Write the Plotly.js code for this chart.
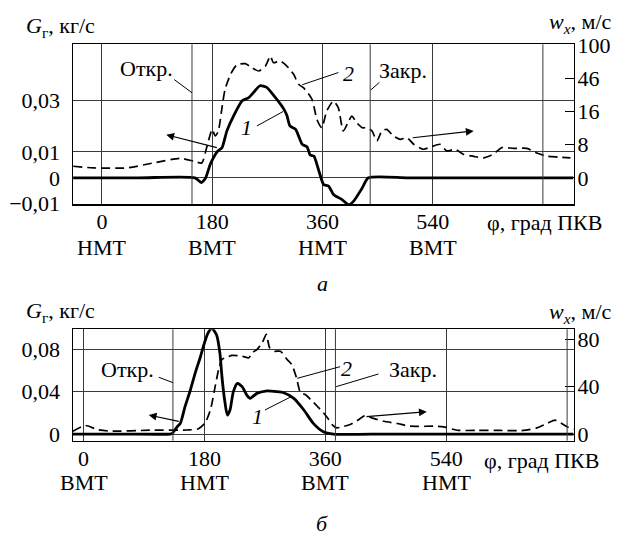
<!DOCTYPE html>
<html>
<head>
<meta charset="utf-8">
<script src="https://cdn.plot.ly/plotly-3.0.1.min.js"></script>
<style>html,body{margin:0;padding:0;background:#fff}#chart{width:617px;height:535px}</style>
</head>
<body>
<div id="chart"></div>
<script>
// ---------- Panel a (top) ----------
// curve 1: gas mass flow G, kg/s (left axis)
const phiA1 = [-47, 60, 152, 162, 169, 177, 189, 196, 204, 215, 229, 239, 250, 258, 269, 283, 297, 302, 307, 316, 321, 327, 335, 340, 346, 351, 356, 362, 370, 378, 392, 403, 411, 425, 435, 500, 600, 700, 770];
const gA1   = [0, 0, 0, -0.0018, -0.0002, 0.0053, 0.0103, 0.0116, 0.0181, 0.0239, 0.0297, 0.0308, 0.0336, 0.0355, 0.0349, 0.0310, 0.0265, 0.0240, 0.0200, 0.0188, 0.0162, 0.0129, 0.0119, 0.0088, 0.0084, 0.0052, 0.0013, -0.0026, -0.0032, -0.0064, -0.0084, -0.0104, -0.0090, -0.0039, 0, 0, 0, 0, 0];
// curve 2: gas velocity w_x, m/s (right axis)
const phiA2 = [-47, -14, 41, 84, 128, 150, 163, 171, 180, 185, 190, 196, 201, 210, 220, 234, 245, 256, 267, 275, 280, 291, 302, 313, 321, 329, 343, 351, 359, 367, 378, 386, 394, 403, 408, 416, 425, 433, 441, 449, 457, 465, 476, 487, 498, 509, 525, 536, 552, 563, 577, 590, 607, 623, 639, 653, 672, 694, 710, 727, 746, 765];
const wA2   = [2.8, 2.4, 2.4, 3.6, 4.7, 4.0, 3.6, 7.3, 11.7, 10.1, 11.3, 19.4, 36.1, 52.7, 67.9, 70.0, 63.5, 58.1, 66.2, 82.5, 71.6, 74.4, 66.2, 52.7, 40.7, 37.6, 27.1, 14.1, 12.1, 16.5, 25.5, 19.4, 11.3, 13.7, 14.9, 13.3, 12.1, 12.1, 11.3, 8.9, 11.3, 11.7, 10.1, 9.3, 9.7, 8.1, 6.9, 7.4, 8.1, 6.5, 6.9, 5.7, 5.2, 4.8, 5.7, 7.3, 7.1, 7.1, 6.0, 5.2, 5.0, 4.8];
const tickPhiA  = [0, 180, 360, 540];
const tickNumA  = ['0', '180', '360', '540'];
const tickWordA = ['НМТ', 'ВМТ', 'НМТ', 'ВМТ'];
const gTicksA   = [-0.01, 0, 0.01, 0.03];
const gLabelsA  = ['−0,01', '0', '0,01', '0,03'];
const wTicksA   = [0, 8, 16, 46, 100];     // non-uniform right scale (equally spaced ticks)
const extraLinesA = [147, 438, 720];       // Откр., Закр., 720°

// ---------- Panel б (bottom) ----------
const phiB1 = [-16, 60, 129, 132, 139, 144, 151, 159, 166, 174, 179, 185, 191, 198, 203, 206, 210, 214, 218, 223, 229, 236, 243, 248, 258, 271, 288, 298, 313, 328, 342, 357, 372, 450, 550, 650, 730];
const gB1   = [0, 0, 0, 0.0007, 0.0066, 0.0101, 0.0258, 0.0416, 0.0573, 0.0730, 0.0841, 0.0951, 0.0998, 0.0935, 0.0762, 0.0541, 0.0321, 0.0179, 0.0227, 0.0400, 0.0479, 0.0447, 0.0368, 0.0337, 0.0384, 0.0406, 0.0400, 0.0390, 0.0337, 0.0227, 0.0101, 0.0022, 0, 0, 0, 0, 0];
const phiB2 = [-16, 3, 20, 40, 99, 154, 171, 181, 189, 196, 201, 206, 211, 221, 236, 246, 251, 258, 266, 272, 277, 284, 293, 303, 310, 317, 323, 330, 338, 348, 357, 365, 370, 377, 385, 397, 410, 419, 429, 447, 467, 486, 521, 536, 556, 586, 620, 655, 675, 690, 702, 710, 720, 730];
const wB2   = [2.4, 7.2, 3.8, 2.4, 3.2, 3.4, 4.4, 9.5, 20.7, 40.5, 54.6, 63.1, 64.5, 66.5, 65.9, 64.5, 68.8, 71.5, 77.2, 84.3, 73.0, 70.1, 70.1, 63.1, 58.8, 47.6, 34.9, 33.4, 29.2, 23.5, 18.0, 12.3, 8.0, 5.2, 6.1, 8.0, 12.3, 15.7, 13.7, 10.8, 8.9, 6.6, 6.6, 6.1, 3.2, 3.0, 3.0, 3.0, 5.2, 8.9, 11.7, 9.5, 6.1, 3.8];
const tickPhiB  = [0, 180, 360, 540];
const tickNumB  = ['0', '180', '360', '540'];
const tickWordB = ['ВМТ', 'НМТ', 'ВМТ', 'НМТ'];
const gTicksB   = [0, 0.04, 0.08];
const gLabelsB  = ['0', '0,04', '0,08'];
const wTicksB   = [0, 40, 80];
const extraLinesB = [133, 375, 720];

// right scale of panel a: each tick interval takes the same height
function wScaleA(w) {
  for (let i = 0; i < wTicksA.length - 1; i++) {
    const a = wTicksA[i], b = wTicksA[i + 1];
    if (w <= b || i === wTicksA.length - 2) return i + (w - a) / (b - a);
  }
}

const W = 617, H = 535;
const FONT = "'Liberation Serif', serif";
const FS = 22;
const GRID = '#3a3a3a';
const px = v => v / W, py = v => 1 - v / H;
const xDom = [px(73), px(573.5)];
const tf = () => ({family: FONT, size: FS, color: '#000'});

const solid = () => ({color: '#000', width: 2.8, shape: 'spline', smoothing: 0.6});
const dashed = () => ({color: '#000', width: 1.7, dash: '9px,5px', shape: 'spline', smoothing: 0.6});

const traces = [
  {x: phiA1, y: gA1, xaxis: 'x', yaxis: 'y', mode: 'lines', line: solid(), hoverinfo: 'skip'},
  {x: phiA2, y: wA2.map(wScaleA), xaxis: 'x', yaxis: 'y2', mode: 'lines', line: dashed(), hoverinfo: 'skip'},
  {x: phiB1, y: gB1, xaxis: 'x2', yaxis: 'y3', mode: 'lines', line: solid(), hoverinfo: 'skip'},
  {x: phiB2, y: wB2, xaxis: 'x2', yaxis: 'y4', mode: 'lines', line: dashed(), hoverinfo: 'skip'}
];

function xAx(dom, range, anchor, vals, nums) {
  return {domain: dom, range: range, anchor: anchor, tickmode: 'array', tickvals: vals, ticktext: nums,
    showgrid: true, gridcolor: GRID, gridwidth: 1, zeroline: false, showline: true, mirror: true,
    linecolor: '#000', linewidth: 1.5, ticks: '', tickfont: tf(), ticklabelstandoff: -3, fixedrange: true};
}
function yLeft(dom, range, anchor, vals, labels) {
  return {domain: dom, range: range, anchor: anchor, tickmode: 'array', tickvals: vals, ticktext: labels,
    showgrid: true, gridcolor: GRID, gridwidth: 1, zeroline: false, showline: true, mirror: true,
    linecolor: '#000', linewidth: 1.5, ticks: '', tickfont: tf(), ticklabelstandoff: 7, fixedrange: true};
}
function yRight(range, overl, anchor, vals, labels) {
  return {range: range, overlaying: overl, anchor: anchor, side: 'right', tickmode: 'array', tickvals: vals, ticktext: labels,
    showgrid: false, zeroline: false, showline: false, ticks: 'inside', ticklen: 9, tickwidth: 1, tickcolor: '#000',
    tickfont: tf(), ticklabelstandoff: 3, fixedrange: true};
}

const yDomA = [py(204), py(44.3)];
const yDomB = [py(440.7), py(329.3)];

const layout = {
  width: W, height: H, margin: {l: 0, r: 0, t: 0, b: 0},
  paper_bgcolor: '#fff', plot_bgcolor: '#fff', showlegend: false, font: tf(),
  xaxis: xAx(xDom, [-47.3, 770], 'y', tickPhiA, tickNumA),
  yaxis: yLeft(yDomA, [-0.0101, 0.0515], 'x', gTicksA, gLabelsA),
  yaxis2: yRight([-0.79, 4.03], 'y', 'x', wTicksA.map(wScaleA), wTicksA.map(String)),
  xaxis2: xAx(xDom, [-15.8, 729.5], 'y3', tickPhiB, tickNumB),
  yaxis3: yLeft(yDomB, [-0.0063, 0.0989], 'x2', gTicksB, gLabelsB),
  yaxis4: yRight([-5.67, 88.65], 'y3', 'x2', wTicksB, wTicksB.map(String)),
  shapes: [], annotations: []
};

// valve open / close lines and 720° line
extraLinesA.forEach(v => layout.shapes.push({type: 'line', xref: 'x', yref: 'y domain', x0: v, x1: v, y0: 0, y1: 1, line: {color: GRID, width: 1}}));
extraLinesB.forEach(v => layout.shapes.push({type: 'line', xref: 'x2', yref: 'y3 domain', x0: v, x1: v, y0: 0, y1: 1, line: {color: GRID, width: 1}}));

function lead(xr, yr, x0, y0, x1, y1) {
  layout.shapes.push({type: 'line', xref: xr, yref: yr, x0: x0, y0: y0, x1: x1, y1: y1, line: {color: '#000', width: 1}});
}
function txt(xr, yr, x, y, t, extra) {
  layout.annotations.push(Object.assign({xref: xr, yref: yr, x: x, y: y, text: t, showarrow: false, font: tf(),
    xanchor: 'center', yanchor: 'middle'}, extra || {}));
}
function arrow(xr, yr, xh, yh, xt, yt) {
  layout.annotations.push({xref: xr, yref: yr, axref: xr, ayref: yr, x: xh, y: yh, ax: xt, ay: yt, text: '',
    showarrow: true, arrowhead: 2, arrowsize: 1.3, arrowwidth: 1.2, arrowcolor: '#000', standoff: 0, startstandoff: 0});
}

// panel a labels
txt('x', 'y', 72, 0.0421, 'Откр.');
lead('x', 'y', 118, 0.0379, 147, 0.0328);
arrow('x', 'y', 105, 0.0166, 190, 0.0115);
txt('x', 'y', 236, 0.0193, '<i>1</i>');
lead('x', 'y', 253, 0.0200, 296, 0.0256);
txt('x', 'y', 403, 0.0401, '<i>2</i>');
lead('x', 'y', 386, 0.0406, 327, 0.0359);
txt('x', 'y', 491, 0.0414, 'Закр.');
lead('x', 'y', 453, 0.0368, 439, 0.0339);
arrow('x', 'y', 607, 0.0181, 505, 0.0154);

// panel б labels
txt('x2', 'y3', 65, 0.0605, 'Откр.');
lead('x2', 'y3', 112, 0.0536, 133, 0.0485);
arrow('x2', 'y3', 97, 0.0179, 144, 0.0116);
txt('x2', 'y3', 259, 0.0170, '<i>1</i>');
lead('x2', 'y3', 270, 0.0227, 308, 0.0349);
txt('x2', 'y3', 392, 0.0621, '<i>2</i>');
lead('x2', 'y3', 382, 0.0636, 318, 0.0526);
txt('x2', 'y3', 491, 0.0605, 'Закр.');
lead('x2', 'y3', 439, 0.0567, 376, 0.0447);
arrow('x2', 'y3', 511, 0.0211, 419, 0.0163);

// second line of x tick labels (dead centres)
tickPhiA.forEach((v, i) => txt('x', 'paper', v, py(247), tickWordA[i]));
tickPhiB.forEach((v, i) => txt('x2', 'paper', v, py(482), tickWordB[i]));

// axis titles
txt('paper', 'paper', px(24), py(27), '<i>G</i><sub>г</sub>, кг/с', {xanchor: 'left'});
txt('paper', 'paper', px(614), py(23), '<i>w</i><sub><i>x</i></sub>, м/с', {xanchor: 'right'});
txt('paper', 'paper', px(24), py(312), '<i>G</i><sub>г</sub>, кг/с', {xanchor: 'left'});
txt('paper', 'paper', px(614), py(313), '<i>w</i><sub><i>x</i></sub>, м/с', {xanchor: 'right'});
txt('paper', 'paper', px(485), py(222), 'φ, град ПКВ', {xanchor: 'left'});
txt('paper', 'paper', px(482), py(460), 'φ, град ПКВ', {xanchor: 'left'});
// panel captions
txt('paper', 'paper', px(322), py(283), '<i>а</i>');
txt('paper', 'paper', px(322), py(523), '<i>б</i>');

Plotly.newPlot('chart', traces, layout, {staticPlot: true, displayModeBar: false});
</script>
</body>
</html>
